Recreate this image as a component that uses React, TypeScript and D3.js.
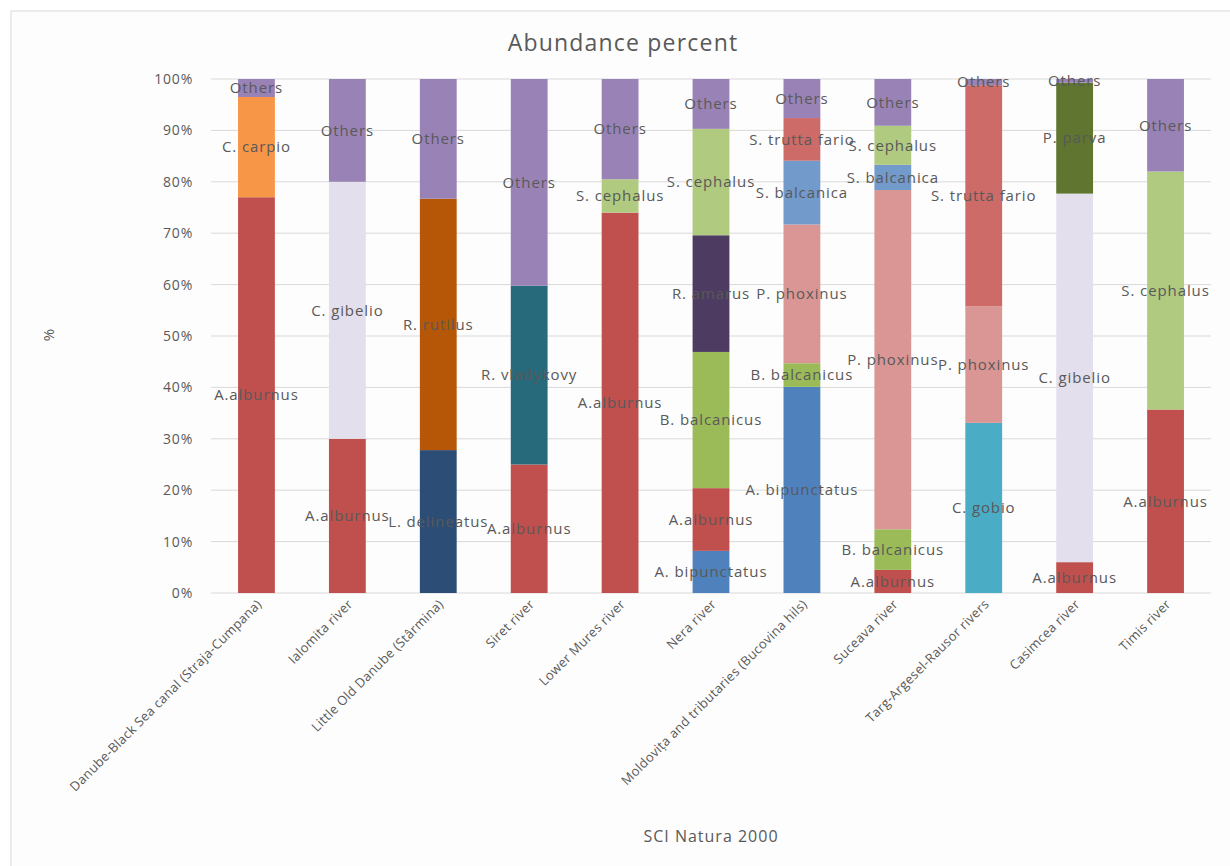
import React from "react";
import * as d3 from "d3";

const categories = [
  "Danube-Black Sea canal (Straja-Cumpana)",
  "Ialomita river",
  "Little Old Danube (Stârmina)",
  "Siret river",
  "Lower Mures river",
  "Nera river",
  "Moldovița and tributaries (Bucovina hils)",
  "Suceava river",
  "Targ-Argesel-Rausor rivers",
  "Casimcea river",
  "Timis river",
];

const species = [
  "A. bipunctatus",
  "A.alburnus",
  "B. balcanicus",
  "C. carpio",
  "C. gibelio",
  "C. gobio",
  "L. delineatus",
  "P. parva",
  "P. phoxinus",
  "R. amarus",
  "R. rutilus",
  "R. vladykovy",
  "S. balcanica",
  "S. cephalus",
  "S. trutta fario",
  "Others",
];

const aBipunctatus = [0, 0, 0, 0, 0, 8.2, 40.1, 0, 0, 0, 0];
const aAlburnus = [77, 30, 0, 25, 74, 12.2, 0, 4.5, 0, 6, 35.7];
const bBalcanicus = [0, 0, 0, 0, 0, 26.5, 4.6, 7.9, 0, 0, 0];
const cCarpio = [19.5, 0, 0, 0, 0, 0, 0, 0, 0, 0, 0];
const cGibelio = [0, 50, 0, 0, 0, 0, 0, 0, 0, 71.7, 0];
const cGobio = [0, 0, 0, 0, 0, 0, 0, 0, 33.1, 0, 0];
const lDelineatus = [0, 0, 27.8, 0, 0, 0, 0, 0, 0, 0, 0];
const pParva = [0, 0, 0, 0, 0, 0, 0, 0, 0, 21.6, 0];
const pPhoxinus = [0, 0, 0, 0, 0, 0, 27, 66, 22.7, 0, 0];
const rAmarus = [0, 0, 0, 0, 0, 22.7, 0, 0, 0, 0, 0];
const rRutilus = [0, 0, 48.9, 0, 0, 0, 0, 0, 0, 0, 0];
const rVladykovy = [0, 0, 0, 34.8, 0, 0, 0, 0, 0, 0, 0];
const sBalcanica = [0, 0, 0, 0, 0, 0, 12.4, 4.9, 0, 0, 0];
const sCephalus = [0, 0, 0, 0, 6.5, 20.7, 0, 7.6, 0, 0, 46.3];
const sTruttaFario = [0, 0, 0, 0, 0, 0, 8.3, 0, 43, 0, 0];
const others = [3.5, 20, 23.3, 40.2, 19.5, 9.7, 7.6, 9.1, 1.2, 0.7, 18];

const seriesValues = [
  aBipunctatus, aAlburnus, bBalcanicus, cCarpio, cGibelio, cGobio, lDelineatus,
  pParva, pPhoxinus, rAmarus, rRutilus, rVladykovy, sBalcanica, sCephalus,
  sTruttaFario, others,
];

const colors = [
  "#4F81BD", "#C0504D", "#9BBB59", "#F79646", "#E4DFEC", "#4BACC6", "#2C4D75",
  "#5F7530", "#D99694", "#4D3B62", "#B65708", "#276A7C", "#729ACB", "#B0CA80",
  "#CD6B68", "#9983B6",
];

const yTicks = [0, 10, 20, 30, 40, 50, 60, 70, 80, 90, 100];

const W = 1230;
const H = 866;
const M = { left: 211, right: 1211, top: 79, bottom: 593 };
const FONT = "'Open Sans', sans-serif";
const TEXT = "#595959";

export default function App() {
  const table = categories.map((c, i) => {
    const row: Record<string, number | string> = { cat: c };
    species.forEach((s, j) => (row[s] = seriesValues[j][i]));
    return row;
  });
  const stacked = d3
    .stack<Record<string, number | string>>()
    .keys(species)
    .value((d, k) => d[k] as number)
    .offset(d3.stackOffsetExpand)(table);

  const x = d3.scaleBand().domain(categories).range([M.left, M.right]).paddingInner(0.595).paddingOuter(0.2975);
  const y = d3.scaleLinear().domain([0, 1]).range([M.bottom, M.top]);
  const yp = d3.scaleLinear().domain([0, 100]).range([M.bottom, M.top]);

  return (
    <svg width={W} height={H} style={{ position: "absolute", left: 0, top: 0, background: "#fff" }}>
      <rect x={11} y={11} width={W} height={H} fill="#FDFDFD" stroke="#D9D9D9" strokeWidth={1} />
      <text x={623} y={51} textAnchor="middle" fontFamily={FONT} fontSize={23} letterSpacing={1.2} fill={TEXT}>
        Abundance percent
      </text>
      {yTicks.map((t) => (
        <g key={t}>
          <line x1={M.left} x2={M.right} y1={yp(t)} y2={yp(t)} stroke="#D9D9D9" strokeWidth={1} />
          <text x={193} y={yp(t)} dy="0.35em" textAnchor="end" fontFamily={FONT} fontSize={14} letterSpacing={0.8} fill={TEXT}>
            {t}%
          </text>
        </g>
      ))}
      <text transform="translate(54,335) rotate(-90)" textAnchor="middle" fontFamily={FONT} fontSize={15} fill={TEXT}>
        %
      </text>
      {stacked.map((s, si) => (
        <g key={s.key} fill={colors[si]}>
          {s.map((d, i) =>
            d[1] - d[0] > 0 ? (
              <rect key={i} x={x(categories[i])} width={x.bandwidth()} y={y(d[1])} height={y(d[0]) - y(d[1])} />
            ) : null
          )}
        </g>
      ))}
      {stacked.map((s) => (
        <g key={s.key + "-lab"}>
          {s.map((d, i) =>
            d[1] - d[0] > 0 ? (
              <text
                key={i}
                x={(x(categories[i]) as number) + x.bandwidth() / 2}
                y={y((d[0] + d[1]) / 2)}
                dy="0.35em"
                textAnchor="middle"
                fontFamily={FONT}
                fontSize={15}
                letterSpacing={0.9}
                fill={TEXT}
              >
                {s.key}
              </text>
            ) : null
          )}
        </g>
      ))}
      {categories.map((c) => (
        <text
          key={c}
          transform={`translate(${(x(c) as number) + x.bandwidth() / 2 + 6},${M.bottom + 12}) rotate(-45)`}
          textAnchor="end"
          fontFamily={FONT}
          fontSize={13}
          letterSpacing={0.3}
          fill={TEXT}
        >
          {c}
        </text>
      ))}
      <text x={711} y={842} textAnchor="middle" fontFamily={FONT} fontSize={16} letterSpacing={1} fill={TEXT}>
        SCI Natura 2000
      </text>
    </svg>
  );
}
